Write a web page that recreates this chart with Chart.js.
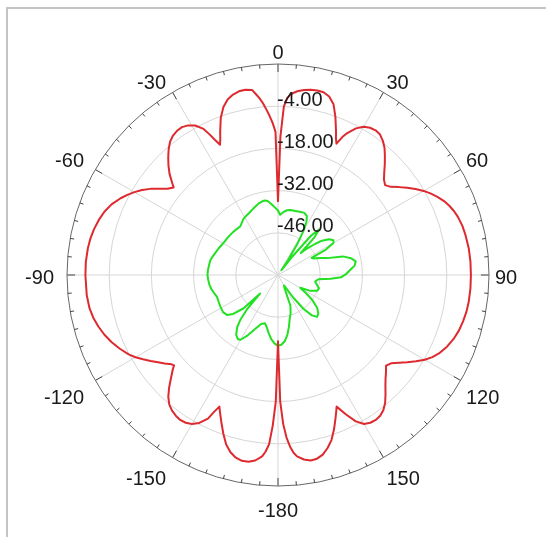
<!DOCTYPE html>
<html><head><meta charset="utf-8">
<script src="https://cdn.jsdelivr.net/npm/chart.js@4.4.1/dist/chart.umd.min.js"></script>
<style>html,body{margin:0;padding:0;background:#fff;}#wrap{width:546px;height:537px;}</style>
</head><body><div id="wrap"><canvas id="c" width="546" height="537"></canvas></div>
<script>
// ---- data (angles in degrees, clockwise from top; values in dB) ----
const angleTickLabels = [0, 30, 60, 90, 120, 150, -180, -150, -120, -90, -60, -30];
const radialTickValues = [-46, -32, -18, -4];
const radialMin = -60, radialMax = 10, radialStep = 14;

const redAngles = [0,1,2,3,4,5,6,8,10,12,14,16,18,20,22,23,24,25,26,28,30,32,34,36,38,40,42,44,46,48,50,52,54,56,58,60,62,64,66,68,70,72,75,78,82,86,90,94,98,101,104,107,110,113,116,118,120,122,124,126,128,130,132,134,136,138,140,142,144,146,148,150,152,154,156,157,158,160,162,164,166,168,170,172,174,175,176,177,178,179,180,
 -179,-178,-177,-176,-175,-173,-171,-169,-167,-165,-163,-161,-159,-157,-156,-155,-154,-152,-150,-148,-146,-144,-142,-140,-138,-136,-134,-132,-131,-130,-128,-126,-124,-122,-120,-118,-115,-112,-109,-106,-103,-100,-96,-90,-86,-82,-79,-76,-73,-70,-67,-64,-62,-60,-58,-56,-54,-52,-50,-49,-47,-45,-43,-41,-39,-37,-35,-33,-31,-29,-27,-26,-25,-24,-23,-22,-20,-18,-16,-14,-12,-10,-8,-7,-6,-5,-4,-3,-2,-1];
const redDb = [-35.5,-14,-4,-1.2,0,0.7,1.3,2.0,2.4,2.6,2.5,1.6,-0.4,-4.3,-8.6,-10.8,-12.3,-9.5,-7.6,-4.9,-3.2,-2.4,-2.1,-2.4,-3.5,-5.0,-7.0,-9.0,-11.0,-12.7,-13.6,-12.5,-10.4,-8.3,-6.2,-4.2,-2.5,-1.0,0.3,1.3,2.1,2.7,3.3,3.6,3.9,4.0,4.0,4.0,3.9,3.7,3.3,2.8,2.0,0.9,-0.6,-2.0,-3.8,-6.0,-8.3,-10.5,-12.4,-13.2,-11.8,-10.4,-8.7,-6.7,-4.7,-3.2,-2.3,-2.0,-2.2,-2.9,-5.0,-8.5,-12.2,-10.6,-9.0,-5.6,-2.5,-0.3,1.4,2.3,2.5,1.8,0.5,-0.8,-3.0,-6.0,-10.5,-18,-38,
 -18,-10,-3.8,-1.3,0.4,2.0,2.7,2.8,2.2,0.9,-1.2,-4.3,-7.6,-10.7,-12.2,-10.0,-7.0,-4.4,-2.9,-2.2,-2.0,-2.3,-2.9,-3.9,-5.6,-8.0,-10.6,-13.0,-14.3,-13.9,-12.3,-10.8,-9.0,-7.2,-5.4,-3.9,-2.1,-0.5,0.9,2.0,2.9,3.5,3.8,3.9,3.9,3.7,3.4,2.9,2.2,1.3,0.0,-1.9,-3.4,-5.0,-6.8,-8.9,-11.3,-13.5,-14.8,-13.5,-10.8,-8.6,-6.6,-4.7,-3.1,-2.1,-1.6,-1.5,-2.1,-3.3,-5.6,-8.0,-10.6,-12.7,-11.0,-8.8,-4.5,-1.4,0.6,1.7,2.3,2.4,2.0,0.5,-1.0,-2.8,-5.0,-7.2,-9.6,-12.5,-16.5];

const greenAngles = [0,2,5,8,11,15,19,23,26,28,30,32,34,36,38,40,42,44,46,48,50,52,55,58,60,62,63,65,68,71,74,77,80,83,86,89,92,94,96,100,104,108,112,116,120,123,126,130,134,137,140,143,146,150,154,158,162,165,168,171,174,177,180,
 -177,-174,-171,-168,-165,-161,-157,-153,-150,-148,-145,-142,-140,-138,-136,-134,-131,-128,-124,-119,-114,-110,-106,-102,-98,-94,-90,-86,-82,-78,-74,-70,-66,-62,-58,-54,-50,-46,-42,-38,-35,-32,-29,-25,-22,-18,-15,-12,-10,-8,-6,-4,-2];
const greenDb = [-38.6,-40.0,-39.0,-38.3,-38.0,-38.0,-37.8,-37.6,-38.2,-39.8,-43,-48,-54,-58,-52,-43,-39.7,-42.5,-49.5,-46.5,-44,-41.5,-39.3,-38.3,-38.8,-42,-47.5,-47,-45,-42.8,-37.6,-35.2,-33.8,-34.4,-36,-37.3,-39,-42.5,-46.5,-47.5,-46.7,-45.7,-46,-48,-51.5,-49,-46,-43,-41.4,-41,-42.5,-46,-51,-56,-55,-49,-46.5,-45,-42.5,-40,-38,-36.9,-36.5,
 -37.3,-38.6,-40.4,-42.2,-43.4,-42.8,-40.5,-37.3,-35.2,-34.9,-35.8,-38,-40.5,-44.5,-51.5,-44,-40.3,-38.5,-38,-38.2,-38.4,-38.5,-38.0,-37.4,-37,-36.8,-36.6,-36.7,-36.9,-37,-37.5,-38,-38.4,-38.8,-39.1,-39.2,-39.3,-39.4,-39.5,-39.6,-39.0,-38.2,-37.8,-37.3,-36.8,-36.0,-35.4,-35.0,-34.9,-35.2,-36.1,-37.0,-37.8];

// ---- build radar tables (one category per degree) ----
const N = 360;
const categories = Array.from({length: N}, (_, i) => (i < 180 ? i : i - 360));
function toSeries(angles, vals) {
  const d = new Array(N).fill(null);
  angles.forEach((a, k) => { d[((a % 360) + 360) % 360] = vals[k]; });
  return d;
}

const FONT = '20px "Liberation Sans", Arial, sans-serif';

const decor = {
  id: 'decor',
  beforeDraw(chart) {
    const c = chart.ctx;
    c.save();
    c.fillStyle = '#fff';
    c.fillRect(0, 0, chart.width, chart.height);
    c.fillStyle = '#c4c4c4';
    c.fillRect(6, 7, 2, chart.height - 7);
    c.fillRect(6, 7, chart.width - 6, 2);
    c.restore();
  },
  afterDraw(chart) {
    const s = chart.scales.r;
    const c = chart.ctx;
    const R = s.drawingArea;
    c.save();
    // tick marks on outer circle
    c.strokeStyle = '#444';
    c.lineWidth = 1;
    for (let d = 0; d < 360; d += 5) {
      const len = d % 30 === 0 ? 8 : 4;
      const p1 = s.getPointPosition(d, R);
      const p2 = s.getPointPosition(d, R - len);
      c.beginPath(); c.moveTo(p1.x, p1.y); c.lineTo(p2.x, p2.y); c.stroke();
    }
    // angle labels
    c.font = FONT;
    c.fillStyle = '#1a1a1a';
    c.textBaseline = 'middle';
    angleTickLabels.forEach(lab => {
      const idx = ((lab % 360) + 360) % 360;
      const th = idx * Math.PI / 180;
      const sn = Math.sin(th), cs = Math.cos(th);
      let y = s.yCenter + 3 - (cs > 0 ? R + 14 : R + 22) * cs;
      if (Math.abs(cs) > 0.3 && Math.abs(cs) < 0.7) y -= 4 * Math.sign(cs);
      let x;
      if (Math.abs(sn) < 0.01) { c.textAlign = 'center'; x = s.xCenter; }
      else if (sn > 0) { c.textAlign = 'left'; x = s.xCenter + (R + 6) * sn; }
      else { c.textAlign = 'right'; x = s.xCenter + (R + 13) * sn; }
      c.fillText(String(lab), x, y);
    });
    // radial labels
    c.textAlign = 'left';
    radialTickValues.forEach(v => {
      const dist = s.getDistanceFromCenterForValue(v);
      c.fillText(v.toFixed(2), s.xCenter - 1, s.yCenter - dist - 6);
    });
    c.restore();
  }
};

new Chart(document.getElementById('c'), {
  type: 'radar',
  data: {
    labels: categories,
    datasets: [
      { data: toSeries(redAngles, redDb), borderColor: '#dd2a2f', borderWidth: 2, pointRadius: 0, fill: false, spanGaps: true, tension: 0 },
      { data: toSeries(greenAngles, greenDb), borderColor: '#22e022', borderWidth: 2, pointRadius: 0, fill: false, spanGaps: true, tension: 0 }
    ]
  },
  options: {
    responsive: false,
    animation: false,
    layout: { padding: { left: 67, top: 64, right: 57, bottom: 51 } },
    plugins: { legend: { display: false }, tooltip: { enabled: false } },
    elements: { line: { borderJoinStyle: 'round' } },
    scales: {
      r: {
        min: radialMin, max: radialMax,
        startAngle: 0,
        ticks: { display: false, stepSize: radialStep },
        grid: { circular: true, color: ctx => (ctx.tick && ctx.tick.value === radialMax) ? '#666' : '#d6d6d6', lineWidth: 1 },
        angleLines: { display: true, color: ctx => (ctx.index % 30 === 0 ? '#d6d6d6' : 'rgba(0,0,0,0)'), lineWidth: ctx => (ctx.index % 30 === 0 ? 1 : 0) },
        pointLabels: { display: false }
      }
    }
  },
  plugins: [decor]
});
</script></body></html>
